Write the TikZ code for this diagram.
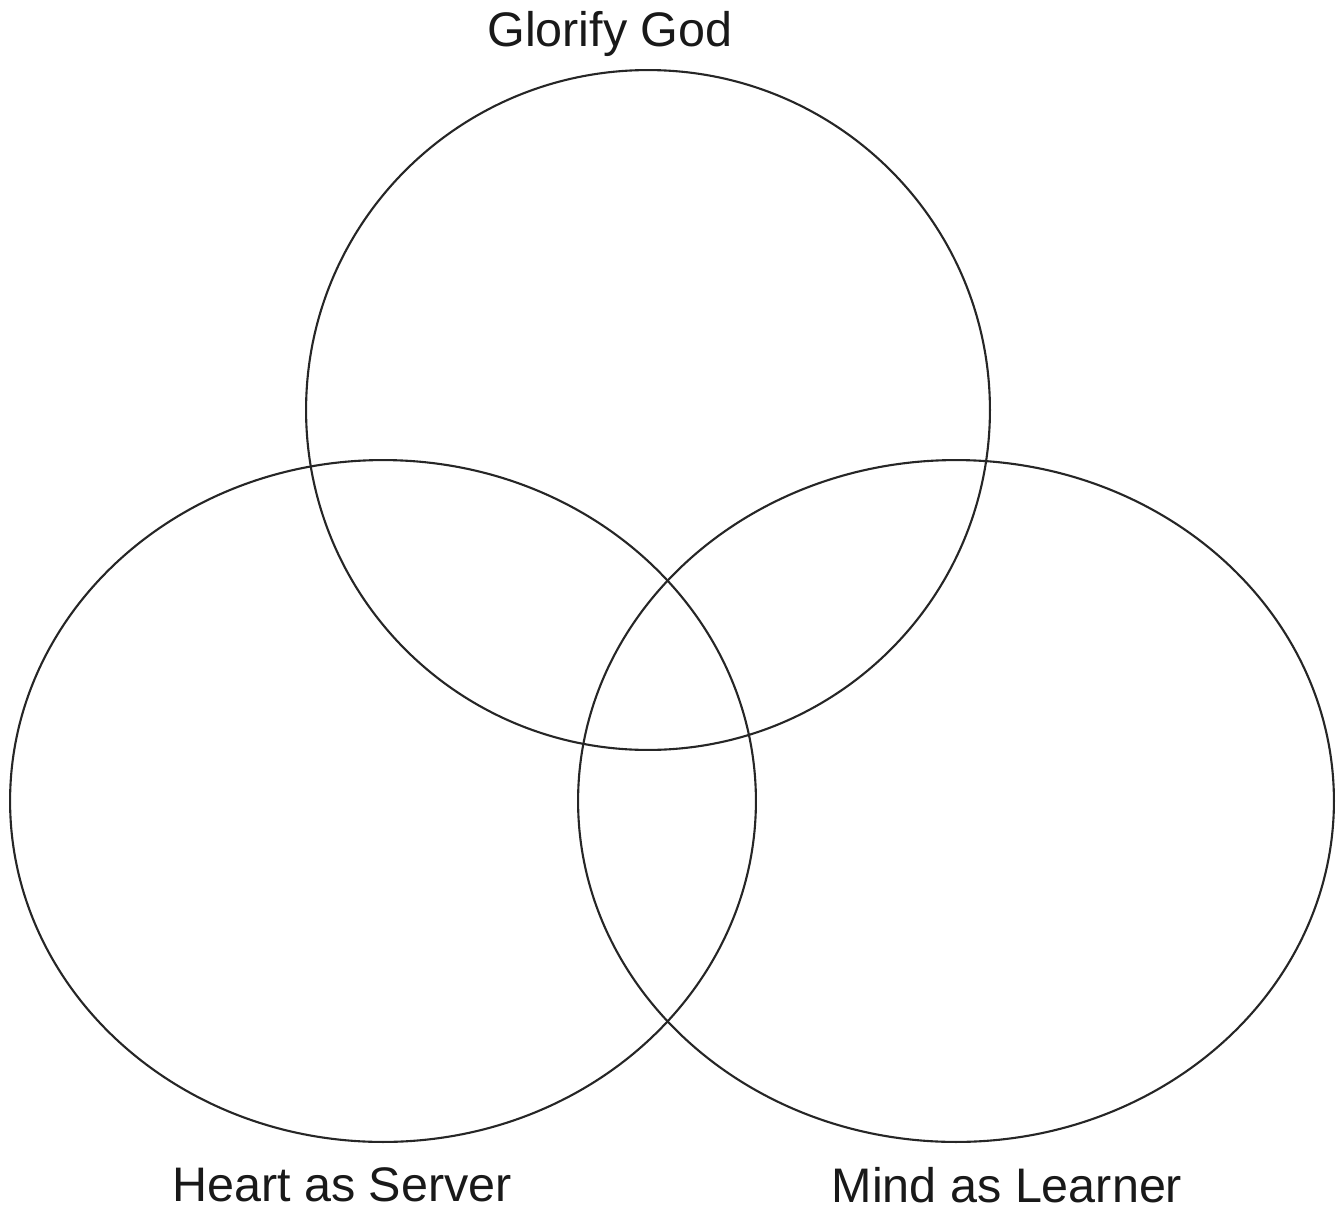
\documentclass[tikz,border=0pt]{standalone}
\usepackage{fontspec}
\setmainfont{Liberation Sans}
\usetikzlibrary{shapes.geometric,positioning}
\tikzset{
    set/.style={ellipse,draw=black!85,line width=1.2pt,inner sep=0pt},
    setlabel/.style={font=\fontsize{27.6}{32}\selectfont,inner sep=0pt,anchor=base,text=black!90}
}

\begin{document}
\begin{tikzpicture}[x=0.02cm,y=-0.02cm]
\useasboundingbox (0,0) rectangle (1344,1213);

% Sets
\node[set,minimum width=13.68cm,minimum height=13.6cm] (god) at (648,410) {};
\node[set,minimum width=14.92cm,minimum height=13.64cm] (heart) at (383,801) {};
\node[set,minimum width=15.12cm,minimum height=13.64cm] (mind) at (956,801) {};

% Labels
\node[setlabel] (godlabel) at (610,47) {Glorify God};
\node[setlabel] (heartlabel) at (342,1201) {Heart as Server};
\node[setlabel] (mindlabel) at (1007,1202) {Mind as Learner};

\end{tikzpicture}
\end{document}
